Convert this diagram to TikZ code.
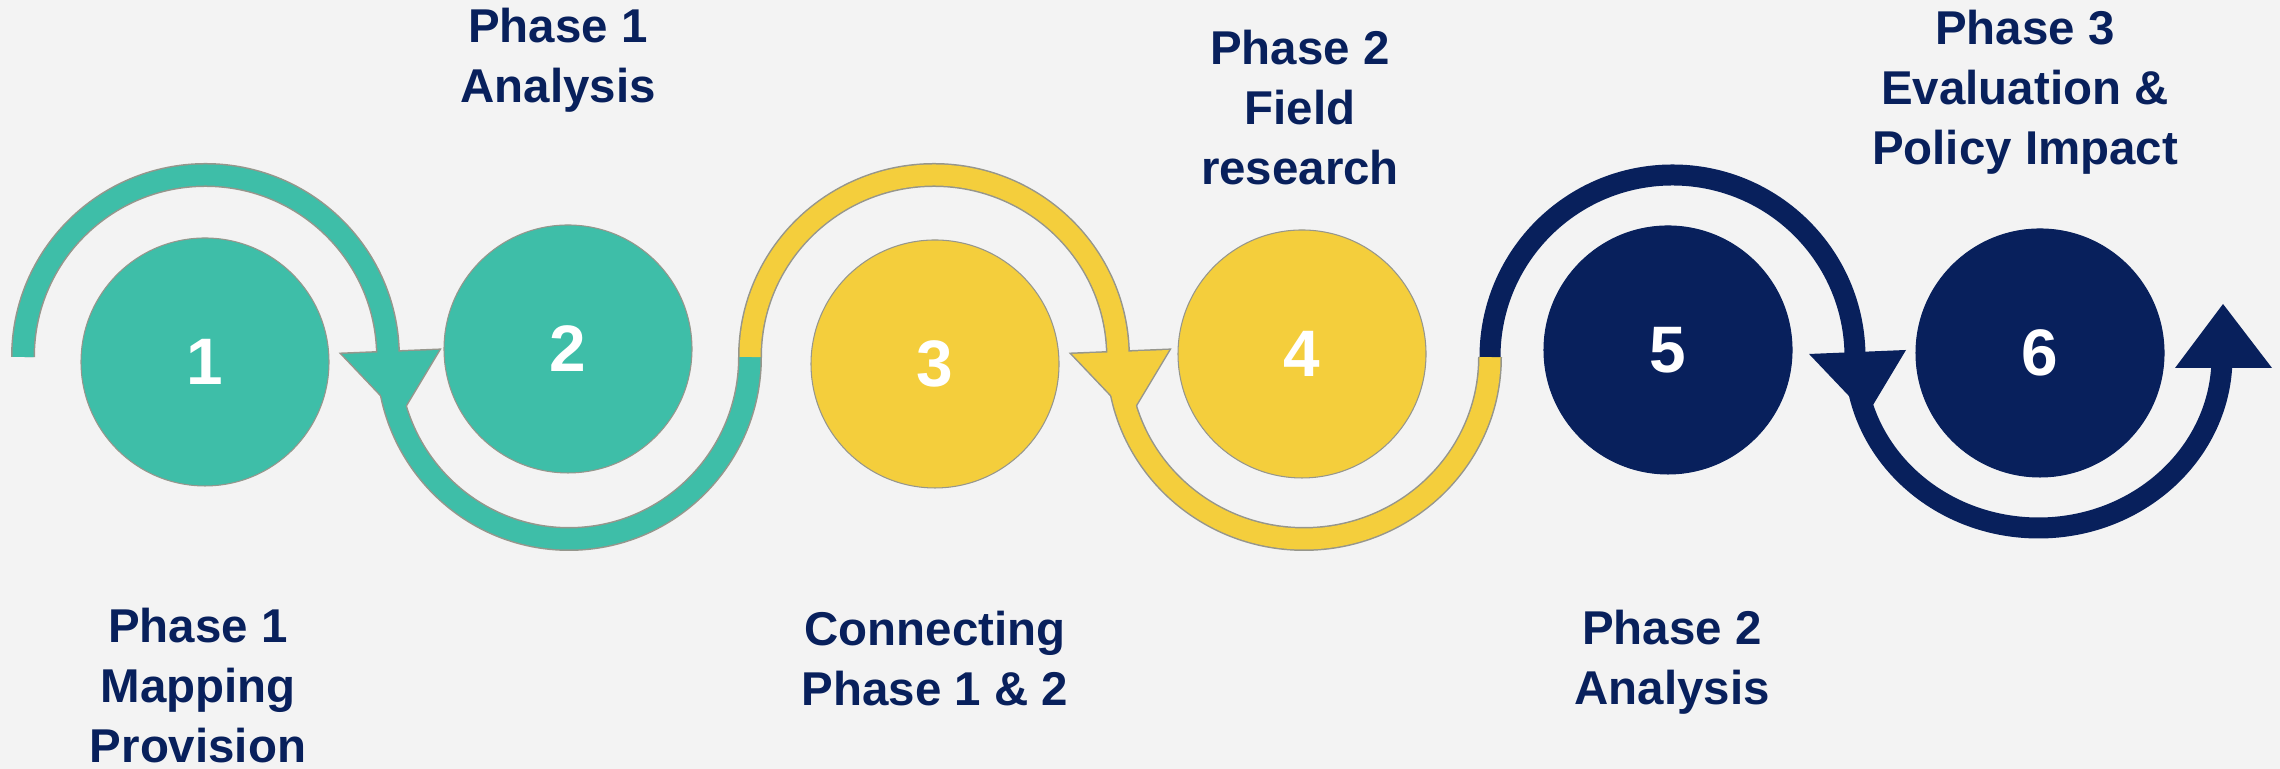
\documentclass[tikz,border=0pt]{standalone}
\usepackage{fontspec}
\setmainfont{Liberation Sans}
\usepackage{xcolor}
\usepackage{tikz}
\usetikzlibrary{positioning}

\definecolor{phaseteal}{RGB}{62,190,168}
\definecolor{phasegold}{RGB}{244,206,60}
\definecolor{phasenavy}{RGB}{8,32,92}
\definecolor{bgcol}{RGB}{243,243,243}
\definecolor{rimcol}{RGB}{150,150,140}

\begin{document}
\begin{tikzpicture}[
  bubble/.style={circle, minimum size=2.48cm, inner sep=0pt, draw=rimcol, line width=0.3pt,
    text=white, font=\fontsize{18.7}{22}\selectfont\bfseries},
  caption/.style={align=center, anchor=base, inner sep=0pt, text=phasenavy,
    font=\fontsize{13.5}{17.2}\selectfont\bfseries},
  band/.style={line width=0.21cm},
  rim/.style={draw=rimcol, line width=0.24cm}]
  \useasboundingbox (0,0) rectangle (22.8,7.69);
  \fill[bgcol] (0,0) rectangle (22.8,7.69);

  % where the band changes from one arc to the next
  \coordinate (j0) at (0.23,4.12);
  \coordinate (j1) at (3.88,4.12);
  \coordinate (j2) at (7.50,4.12);
  \coordinate (j3) at (11.18,4.12);
  \coordinate (j4) at (14.90,4.12);
  \coordinate (j5) at (18.55,4.12);
  \coordinate (j6) at (22.22,4.12);

  % thin rim under teal and gold
  \path[rim] (j0) arc[start angle=180, end angle=0, x radius=1.825, y radius=1.82]
    arc[start angle=180, end angle=360, x radius=1.81, y radius=1.82]
    arc[start angle=180, end angle=0, x radius=1.84, y radius=1.82]
    arc[start angle=180, end angle=360, x radius=1.86, y radius=1.82];
  \filldraw[rimcol, line width=0.03cm] (j1) ++(-0.46,0.03) -- ++(0.97,0.04) -- ++(-0.39,-0.65) -- cycle;
  \filldraw[rimcol, line width=0.03cm] (j3) ++(-0.46,0.03) -- ++(0.97,0.04) -- ++(-0.39,-0.65) -- cycle;

  % the band, one colour per phase
  \draw[band, phaseteal] (j0) arc[start angle=180, end angle=0, x radius=1.825, y radius=1.82]
    arc[start angle=180, end angle=360, x radius=1.81, y radius=1.82];
  \draw[band, phasegold] (j2) arc[start angle=180, end angle=0, x radius=1.84, y radius=1.82]
    arc[start angle=180, end angle=360, x radius=1.86, y radius=1.82];
  \draw[band, phasenavy] (j4) arc[start angle=180, end angle=0, x radius=1.825, y radius=1.82]
    arc[start angle=180, end angle=360, x radius=1.835, y radius=1.71];

  % arrow heads
  \fill[phaseteal] (j1) ++(-0.46,0.03) -- ++(0.97,0.04) -- ++(-0.39,-0.65) -- cycle;
  \fill[phasegold] (j3) ++(-0.46,0.03) -- ++(0.97,0.04) -- ++(-0.39,-0.65) -- cycle;
  \fill[phasenavy] (j5) ++(-0.46,0.03) -- ++(0.97,0.04) -- ++(-0.39,-0.65) -- cycle;
  \fill[phasenavy] (j6) ++(-0.47,-0.11) -- ++(0.97,0) -- ++(-0.49,0.64) -- cycle;

  % the six steps
  \node[bubble, fill=phaseteal] (c1) at (2.05,4.07) {1};
  \node[bubble, fill=phaseteal] (c2) at (5.68,4.20) {2};
  \node[bubble, fill=phasegold] (c3) at (9.35,4.05) {3};
  \node[bubble, fill=phasegold] (c4) at (13.02,4.15) {4};
  \node[bubble, fill=phasenavy, draw=phasenavy] (c5) at (16.68,4.19) {5};
  \node[bubble, fill=phasenavy, draw=phasenavy] (c6) at (20.40,4.16) {6};

  % captions above and below (base = last line)
  \node[caption] (p1ana) at (5.58,6.66) {Phase 1\\Analysis};
  \node[caption] (p2field) at (13.00,5.84) {Phase 2\\Field\\research};
  \node[caption] (p3eval) at (20.25,6.04) {Phase 3\\Evaluation \&\\Policy Impact};
  \node[caption] (p1map) at (1.98,0.06) {Phase 1\\Mapping\\Provision};
  \node[caption] (conn) at (9.35,0.63) {Connecting\\Phase 1 \& 2};
  \node[caption] (p2ana) at (16.72,0.64) {Phase 2\\Analysis};
\end{tikzpicture}
\end{document}
